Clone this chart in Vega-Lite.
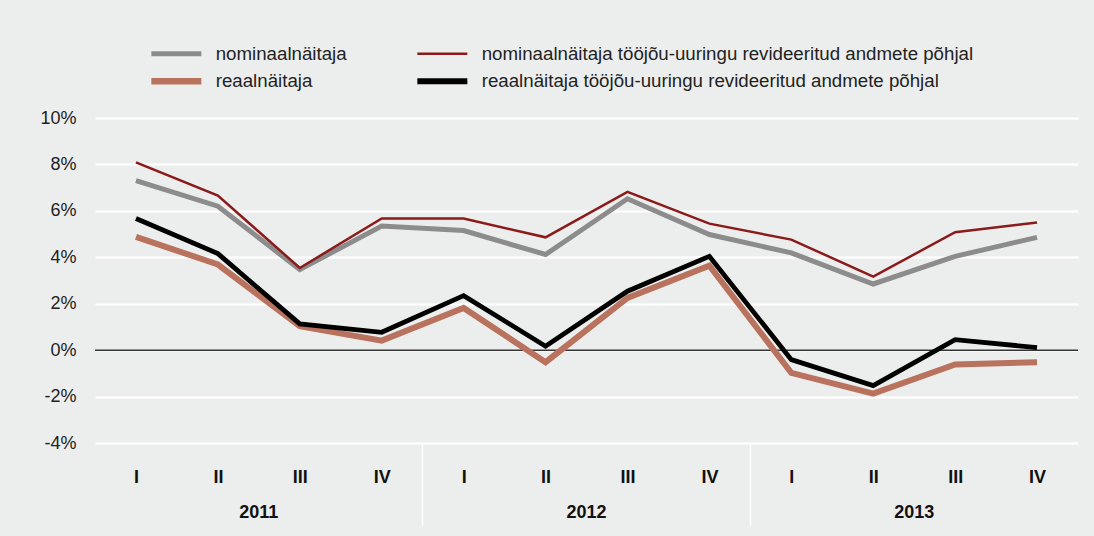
{
  "$schema": "https://vega.github.io/schema/vega-lite/v6.json",
  "width": 983,
  "height": 325,
  "autosize": "none",
  "padding": {"left": 95, "top": 118, "right": 16, "bottom": 93},
  "background": "#ECEEED",
  "config": {"view": {"stroke": null}, "font": "Liberation Sans"},
  "datasets": {
    "series": [
      {"s": "nominaalnäitaja", "t": "2011-I", "v": 7.3},
      {"s": "nominaalnäitaja", "t": "2011-II", "v": 6.2},
      {"s": "nominaalnäitaja", "t": "2011-III", "v": 3.47},
      {"s": "nominaalnäitaja", "t": "2011-IV", "v": 5.35},
      {"s": "nominaalnäitaja", "t": "2012-I", "v": 5.15},
      {"s": "nominaalnäitaja", "t": "2012-II", "v": 4.12},
      {"s": "nominaalnäitaja", "t": "2012-III", "v": 6.52},
      {"s": "nominaalnäitaja", "t": "2012-IV", "v": 4.98},
      {"s": "nominaalnäitaja", "t": "2013-I", "v": 4.19},
      {"s": "nominaalnäitaja", "t": "2013-II", "v": 2.85},
      {"s": "nominaalnäitaja", "t": "2013-III", "v": 4.04},
      {"s": "nominaalnäitaja", "t": "2013-IV", "v": 4.86},
      {"s": "reaalnäitaja", "t": "2011-I", "v": 4.88},
      {"s": "reaalnäitaja", "t": "2011-II", "v": 3.69},
      {"s": "reaalnäitaja", "t": "2011-III", "v": 1.03},
      {"s": "reaalnäitaja", "t": "2011-IV", "v": 0.41},
      {"s": "reaalnäitaja", "t": "2012-I", "v": 1.82},
      {"s": "reaalnäitaja", "t": "2012-II", "v": -0.52},
      {"s": "reaalnäitaja", "t": "2012-III", "v": 2.25},
      {"s": "reaalnäitaja", "t": "2012-IV", "v": 3.64},
      {"s": "reaalnäitaja", "t": "2013-I", "v": -0.98},
      {"s": "reaalnäitaja", "t": "2013-II", "v": -1.87},
      {"s": "reaalnäitaja", "t": "2013-III", "v": -0.62},
      {"s": "reaalnäitaja", "t": "2013-IV", "v": -0.52},
      {"s": "nominaalnäitaja tööjõu-uuringu revideeritud andmete põhjal", "t": "2011-I", "v": 8.09},
      {"s": "nominaalnäitaja tööjõu-uuringu revideeritud andmete põhjal", "t": "2011-II", "v": 6.66},
      {"s": "nominaalnäitaja tööjõu-uuringu revideeritud andmete põhjal", "t": "2011-III", "v": 3.54},
      {"s": "nominaalnäitaja tööjõu-uuringu revideeritud andmete põhjal", "t": "2011-IV", "v": 5.67},
      {"s": "nominaalnäitaja tööjõu-uuringu revideeritud andmete põhjal", "t": "2012-I", "v": 5.67},
      {"s": "nominaalnäitaja tööjõu-uuringu revideeritud andmete põhjal", "t": "2012-II", "v": 4.86},
      {"s": "nominaalnäitaja tööjõu-uuringu revideeritud andmete põhjal", "t": "2012-III", "v": 6.82},
      {"s": "nominaalnäitaja tööjõu-uuringu revideeritud andmete põhjal", "t": "2012-IV", "v": 5.45},
      {"s": "nominaalnäitaja tööjõu-uuringu revideeritud andmete põhjal", "t": "2013-I", "v": 4.76},
      {"s": "nominaalnäitaja tööjõu-uuringu revideeritud andmete põhjal", "t": "2013-II", "v": 3.17},
      {"s": "nominaalnäitaja tööjõu-uuringu revideeritud andmete põhjal", "t": "2013-III", "v": 5.08},
      {"s": "nominaalnäitaja tööjõu-uuringu revideeritud andmete põhjal", "t": "2013-IV", "v": 5.5},
      {"s": "reaalnäitaja tööjõu-uuringu revideeritud andmete põhjal", "t": "2011-I", "v": 5.67},
      {"s": "reaalnäitaja tööjõu-uuringu revideeritud andmete põhjal", "t": "2011-II", "v": 4.16},
      {"s": "reaalnäitaja tööjõu-uuringu revideeritud andmete põhjal", "t": "2011-III", "v": 1.13},
      {"s": "reaalnäitaja tööjõu-uuringu revideeritud andmete põhjal", "t": "2011-IV", "v": 0.77},
      {"s": "reaalnäitaja tööjõu-uuringu revideeritud andmete põhjal", "t": "2012-I", "v": 2.35},
      {"s": "reaalnäitaja tööjõu-uuringu revideeritud andmete põhjal", "t": "2012-II", "v": 0.17},
      {"s": "reaalnäitaja tööjõu-uuringu revideeritud andmete põhjal", "t": "2012-III", "v": 2.54},
      {"s": "reaalnäitaja tööjõu-uuringu revideeritud andmete põhjal", "t": "2012-IV", "v": 4.04},
      {"s": "reaalnäitaja tööjõu-uuringu revideeritud andmete põhjal", "t": "2013-I", "v": -0.41},
      {"s": "reaalnäitaja tööjõu-uuringu revideeritud andmete põhjal", "t": "2013-II", "v": -1.53},
      {"s": "reaalnäitaja tööjõu-uuringu revideeritud andmete põhjal", "t": "2013-III", "v": 0.45},
      {"s": "reaalnäitaja tööjõu-uuringu revideeritud andmete põhjal", "t": "2013-IV", "v": 0.11}
    ],
    "years": [{"year": "2011"}, {"year": "2012"}, {"year": "2013"}],
    "zero": [{"v": 0}]
  },
  "layer": [
    {
      "data": {"name": "zero"},
      "mark": {"type": "rule", "color": "#333333", "strokeWidth": 1.5},
      "encoding": {
        "y": {
          "field": "v", "type": "quantitative",
          "scale": {"domain": [-4, 10], "nice": false, "zero": false},
          "axis": {
            "values": [-4, -2, 0, 2, 4, 6, 8, 10],
            "labelExpr": "datum.value + '%'",
            "grid": true, "gridColor": "#ffffff", "gridWidth": 2,
            "domain": false, "ticks": false, "labelPadding": 19,
            "labelFontSize": 18, "labelColor": "#222222", "title": null
          }
        }
      }
    },
    {
      "data": {"name": "series"},
      "mark": {"type": "line", "strokeCap": "butt"},
      "encoding": {
        "x": {
          "field": "t", "type": "ordinal",
          "scale": {
            "type": "point", "padding": 0.5,
            "domain": ["2011-I", "2011-II", "2011-III", "2011-IV", "2012-I", "2012-II", "2012-III", "2012-IV", "2013-I", "2013-II", "2013-III", "2013-IV"]
          },
          "axis": {
            "labelExpr": "split(datum.label, '-')[1]",
            "labelFontWeight": "bold", "labelFontSize": 18, "labelColor": "#111111",
            "labelPadding": 25, "labelAngle": 0,
            "ticks": false, "domain": false, "grid": false, "title": null
          }
        },
        "y": {
          "field": "v", "type": "quantitative",
          "scale": {"domain": [-4, 10], "nice": false, "zero": false},
          "axis": {
            "values": [-4, -2, 0, 2, 4, 6, 8, 10],
            "labelExpr": "datum.value + '%'",
            "grid": true, "gridColor": "#ffffff", "gridWidth": 2,
            "domain": false, "ticks": false, "labelPadding": 19,
            "labelFontSize": 18, "labelColor": "#222222", "title": null
          }
        },
        "color": {
          "field": "s", "type": "nominal",
          "sort": ["nominaalnäitaja", "nominaalnäitaja tööjõu-uuringu revideeritud andmete põhjal", "reaalnäitaja", "reaalnäitaja tööjõu-uuringu revideeritud andmete põhjal"],
          "scale": {
            "domain": ["nominaalnäitaja", "nominaalnäitaja tööjõu-uuringu revideeritud andmete põhjal", "reaalnäitaja", "reaalnäitaja tööjõu-uuringu revideeritud andmete põhjal"],
            "range": ["#8c8c8c", "#8b1a1a", "#b9725e", "#000000"]
          },
          "legend": {
            "orient": "none", "legendX": 72, "legendY": -74, "columns": 2, "direction": "horizontal",
            "title": null, "symbolType": "stroke", "symbolSize": 2500,
            "labelFontSize": 18.7, "labelOffset": 30, "labelColor": "#222222",
            "columnPadding": 58, "rowPadding": 4, "labelLimit": 700,
            "encode": {
              "symbols": {
                "update": {
                  "strokeWidth": {"signal": "datum.value === 'nominaalnäitaja' ? 5 : datum.value === 'reaalnäitaja' ? 6.5 : datum.value === 'reaalnäitaja tööjõu-uuringu revideeritud andmete põhjal' ? 6 : 2.5"}
                }
              }
            }
          }
        },
        "strokeWidth": {
          "condition": [
            {"test": "datum.s === 'nominaalnäitaja'", "value": 5},
            {"test": "datum.s === 'reaalnäitaja'", "value": 6},
            {"test": "datum.s === 'reaalnäitaja tööjõu-uuringu revideeritud andmete põhjal'", "value": 4.8}
          ],
          "value": 2.5
        }
      }
    },
    {
      "data": {"name": "years"},
      "mark": {"type": "point", "opacity": 0},
      "encoding": {
        "x": {
          "field": "year", "type": "ordinal",
          "scale": {"type": "band", "paddingInner": 0, "paddingOuter": 0},
          "axis": {
            "orient": "bottom", "bandPosition": 0,
            "ticks": true, "tickSize": 82, "tickColor": "#ffffff", "tickWidth": 1.5,
            "tickOpacity": {"condition": {"test": "datum.value === '2011'", "value": 0}, "value": 1},
            "domain": false, "grid": false, "labelPadding": -22, "labelAngle": 0,
            "labelFontSize": 18, "labelFontWeight": "bold", "labelColor": "#111111",
            "title": null
          }
        }
      }
    }
  ],
  "resolve": {"scale": {"x": "independent"}, "axis": {"x": "independent"}}
}
